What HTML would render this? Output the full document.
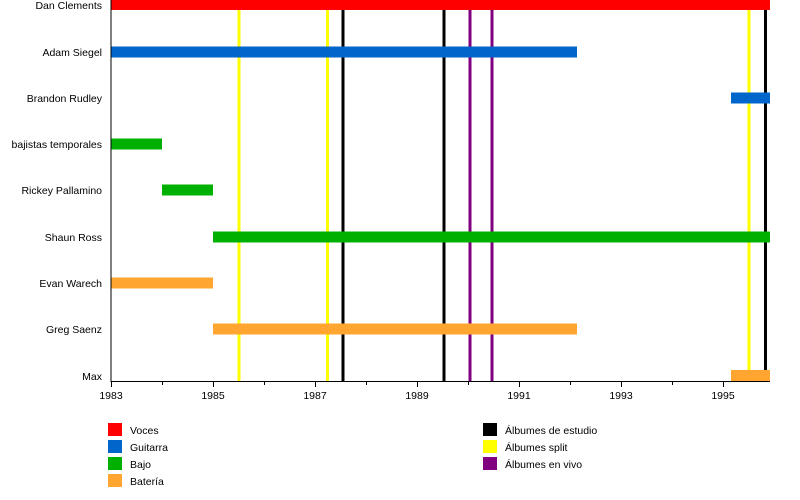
<!DOCTYPE html>
<html><head><meta charset="utf-8"><style>
html,body{margin:0;padding:0;background:#fff;}
svg{display:block;font-family:"Liberation Sans",Arial,sans-serif;font-size:10.5px;}
</style></head><body>
<svg width="800" height="500" viewBox="0 0 800 500" xmlns="http://www.w3.org/2000/svg">
<rect width="800" height="500" fill="#fff"/>
<g stroke-width="3">
<line x1="239" y1="10" x2="239" y2="381" stroke="#ffff00"/>
<line x1="327.5" y1="10" x2="327.5" y2="381" stroke="#ffff00"/>
<line x1="749" y1="10" x2="749" y2="381" stroke="#ffff00"/>
<line x1="343" y1="10" x2="343" y2="381" stroke="#000"/>
<line x1="444" y1="10" x2="444" y2="381" stroke="#000"/>
<line x1="765.5" y1="10" x2="765.5" y2="381" stroke="#000"/>
<line x1="470" y1="10" x2="470" y2="381" stroke="#800080"/>
<line x1="492" y1="10" x2="492" y2="381" stroke="#800080"/>
</g>
<rect x="111" y="-1" width="659" height="11" fill="#ff0000"/>
<rect x="111" y="46.5" width="466" height="11" fill="#0066cc"/>
<rect x="731" y="92.5" width="39" height="11" fill="#0066cc"/>
<rect x="111" y="138.5" width="51" height="11" fill="#00b000"/>
<rect x="162" y="184.5" width="51" height="11" fill="#00b000"/>
<rect x="213" y="231.5" width="557" height="11" fill="#00b000"/>
<rect x="111" y="277.5" width="102" height="11" fill="#ffa530"/>
<rect x="213" y="323.5" width="364" height="11" fill="#ffa530"/>
<rect x="731" y="370" width="39" height="11" fill="#ffa530"/>
<line x1="111" y1="0" x2="111" y2="381.5" stroke="#000" stroke-width="1"/>
<line x1="110.5" y1="381.5" x2="770" y2="381.5" stroke="#000" stroke-width="1"/>
<g stroke="#000" stroke-width="1">
<line x1="111.5" y1="381" x2="111.5" y2="387"/>
<line x1="162.5" y1="381" x2="162.5" y2="385"/>
<line x1="213.5" y1="381" x2="213.5" y2="387"/>
<line x1="264.5" y1="381" x2="264.5" y2="385"/>
<line x1="315.5" y1="381" x2="315.5" y2="387"/>
<line x1="366.5" y1="381" x2="366.5" y2="385"/>
<line x1="417.5" y1="381" x2="417.5" y2="387"/>
<line x1="468.5" y1="381" x2="468.5" y2="385"/>
<line x1="519.5" y1="381" x2="519.5" y2="387"/>
<line x1="570.5" y1="381" x2="570.5" y2="385"/>
<line x1="621.5" y1="381" x2="621.5" y2="387"/>
<line x1="672.5" y1="381" x2="672.5" y2="385"/>
<line x1="723.5" y1="381" x2="723.5" y2="387"/>
</g>
<g text-anchor="middle">
<text x="111" y="399">1983</text>
<text x="213" y="399">1985</text>
<text x="315" y="399">1987</text>
<text x="417" y="399">1989</text>
<text x="519" y="399">1991</text>
<text x="621" y="399">1993</text>
<text x="723" y="399">1995</text>
</g>
<g text-anchor="end">
<text x="102" y="9">Dan Clements</text>
<text x="102" y="56">Adam Siegel</text>
<text x="102" y="102">Brandon Rudley</text>
<text x="102" y="148">bajistas temporales</text>
<text x="102" y="194">Rickey Pallamino</text>
<text x="102" y="241">Shaun Ross</text>
<text x="102" y="287">Evan Warech</text>
<text x="102" y="333">Greg Saenz</text>
<text x="102" y="380">Max</text>
</g>
<rect x="108" y="423" width="14" height="13" fill="#ff0000"/>
<rect x="108" y="440" width="14" height="13" fill="#0066cc"/>
<rect x="108" y="457" width="14" height="13" fill="#00b000"/>
<rect x="108" y="474" width="14" height="13" fill="#ffa530"/>
<text x="130" y="434">Voces</text>
<text x="130" y="451">Guitarra</text>
<text x="130" y="468">Bajo</text>
<text x="130" y="485">Batería</text>
<rect x="483" y="423" width="14" height="13" fill="#000"/>
<rect x="483" y="440" width="14" height="13" fill="#ffff00"/>
<rect x="483" y="457" width="14" height="13" fill="#800080"/>
<text x="505" y="434">Álbumes de estudio</text>
<text x="505" y="451">Álbumes split</text>
<text x="505" y="468">Álbumes en vivo</text>
</svg>
</body></html>
